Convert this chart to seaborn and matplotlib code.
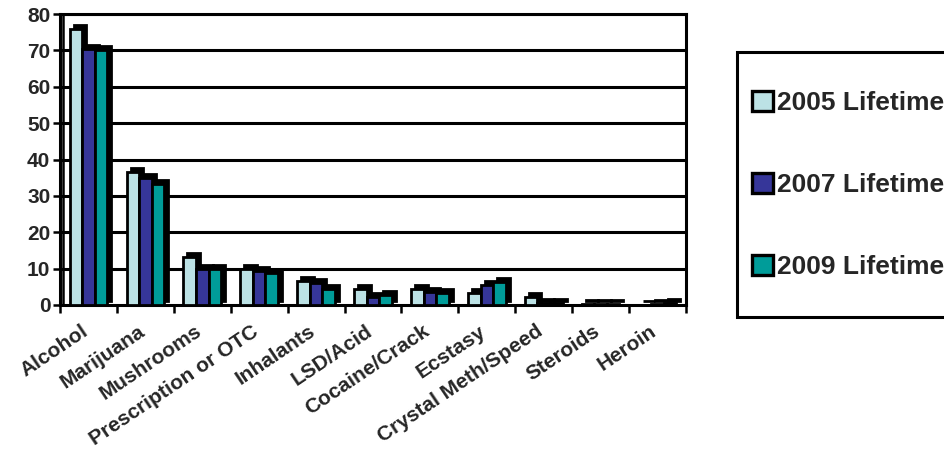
import matplotlib
matplotlib.use("Agg")
import matplotlib.pyplot as plt
import matplotlib.transforms as mtransforms
from matplotlib.patches import Rectangle, Patch
import numpy as np
import pandas as pd
import seaborn as sns

# Lifetime use (%) by substance and survey year
categories = ["Alcohol", "Marijuana", "Mushrooms", "Prescription or OTC", "Inhalants",
              "LSD/Acid", "Cocaine/Crack", "Ecstasy", "Crystal Meth/Speed", "Steroids", "Heroin"]
series_names = ["2005 Lifetime", "2007 Lifetime", "2009 Lifetime"]
values_2005 = [76.0, 36.5, 13.3, 10.0, 6.7, 4.3, 4.3, 3.2, 2.1, 0.3, 0.1]
values_2007 = [70.5, 34.8, 10.0, 9.3, 6.0, 2.1, 3.7, 5.4, 0.5, 0.3, 0.2]
values_2009 = [70.0, 33.2, 10.0, 8.8, 4.4, 2.7, 3.2, 6.4, 0.5, 0.2, 0.5]
y_ticks = [0, 10, 20, 30, 40, 50, 60, 70, 80]

colors = ["#BCE2E5", "#363699", "#009C99"]

df = pd.DataFrame({
    "Substance": categories * 3,
    "Percent": values_2005 + values_2007 + values_2009,
    "Year": [series_names[0]] * len(categories)
            + [series_names[1]] * len(categories)
            + [series_names[2]] * len(categories),
})

sns.set_theme(style="white")
plt.rcParams["font.family"] = ["Liberation Sans", "DejaVu Sans"]
plt.rcParams["font.weight"] = "bold"

fig = plt.figure(figsize=(9.44, 4.5), dpi=100)
ax = fig.add_axes([60 / 944, 1 - 305 / 450, (686 - 60) / 944, (305 - 14) / 450])

sns.barplot(data=df, x="Substance", y="Percent", hue="Year", order=categories,
            hue_order=series_names, palette=colors, width=0.66, gap=0,
            edgecolor="black", linewidth=2.0, saturation=1, legend=False, ax=ax)

# Depth block behind each bar for the raised-column look
depth = mtransforms.offset_copy(ax.transData, fig=fig, x=4, y=4, units="dots")
for h, cont in enumerate(ax.containers):
    for bar in cont:
        bar.set_zorder(3 + 2 * h)
        shadow = Rectangle(bar.get_xy(), bar.get_width(), bar.get_height(),
                           transform=depth, facecolor="black", edgecolor="black",
                           linewidth=2.0, zorder=2 + 2 * h)
        ax.add_patch(shadow)

ax.set_xlim(-0.5, len(categories) - 0.5)
ax.set_ylim(0, 80)
ax.set_yticks(y_ticks)
ax.set_xlabel("")
ax.set_ylabel("")

# Horizontal gridlines along the back wall
for yv in y_ticks[1:]:
    ax.axhline(yv, color="black", linewidth=2.2, zorder=1)
wall = mtransforms.offset_copy(ax.transAxes, fig=fig, x=3, y=0, units="dots")
ax.plot([0, 0], [0, 1], color="black", linewidth=1.8, transform=wall, zorder=1, clip_on=False)

for side in ["left", "bottom", "right", "top"]:
    ax.spines[side].set_visible(True)
    ax.spines[side].set_color("black")
    ax.spines[side].set_linewidth(2.2)

ax.tick_params(axis="y", which="major", direction="out", length=5, width=1.8,
               color="black", labelsize=15, pad=2, left=True)
ax.set_xticks(range(len(categories)))
ax.set_xticks(np.arange(-0.5, len(categories)), minor=True)
ax.tick_params(axis="x", which="major", length=0, pad=12, labelsize=15)
ax.tick_params(axis="x", which="minor", direction="out", length=6, width=1.8,
               color="black", bottom=True)
for lab in ax.get_yticklabels():
    lab.set_fontweight("bold")
ax.set_xticklabels(categories, rotation=34, ha="right", va="top",
                   rotation_mode="anchor", fontweight="bold")
for lab in ax.get_xticklabels():
    lab.set_transform(lab.get_transform()
                      + mtransforms.ScaledTranslation(-8 / 100, 0, fig.dpi_scale_trans))

# Legend box, running off the right edge of the figure
fig.patches.append(Rectangle((737 / 944, 1 - 317 / 450), (960 - 737) / 944, (317 - 52) / 450,
                             transform=fig.transFigure, facecolor="white",
                             edgecolor="black", linewidth=2.2, zorder=0))
handles = [Patch(facecolor=c, edgecolor="black", linewidth=2.4) for c in colors]
leg = fig.legend(handles, series_names, loc="center left",
                 bbox_to_anchor=(752 / 944, 1 - 185 / 450), frameon=False,
                 prop={"size": 19, "weight": "bold"}, handlelength=0.78,
                 handleheight=0.78, handletextpad=0.17, labelspacing=2.2,
                 borderpad=0, borderaxespad=0)

fig.savefig("out.png", dpi=100)
